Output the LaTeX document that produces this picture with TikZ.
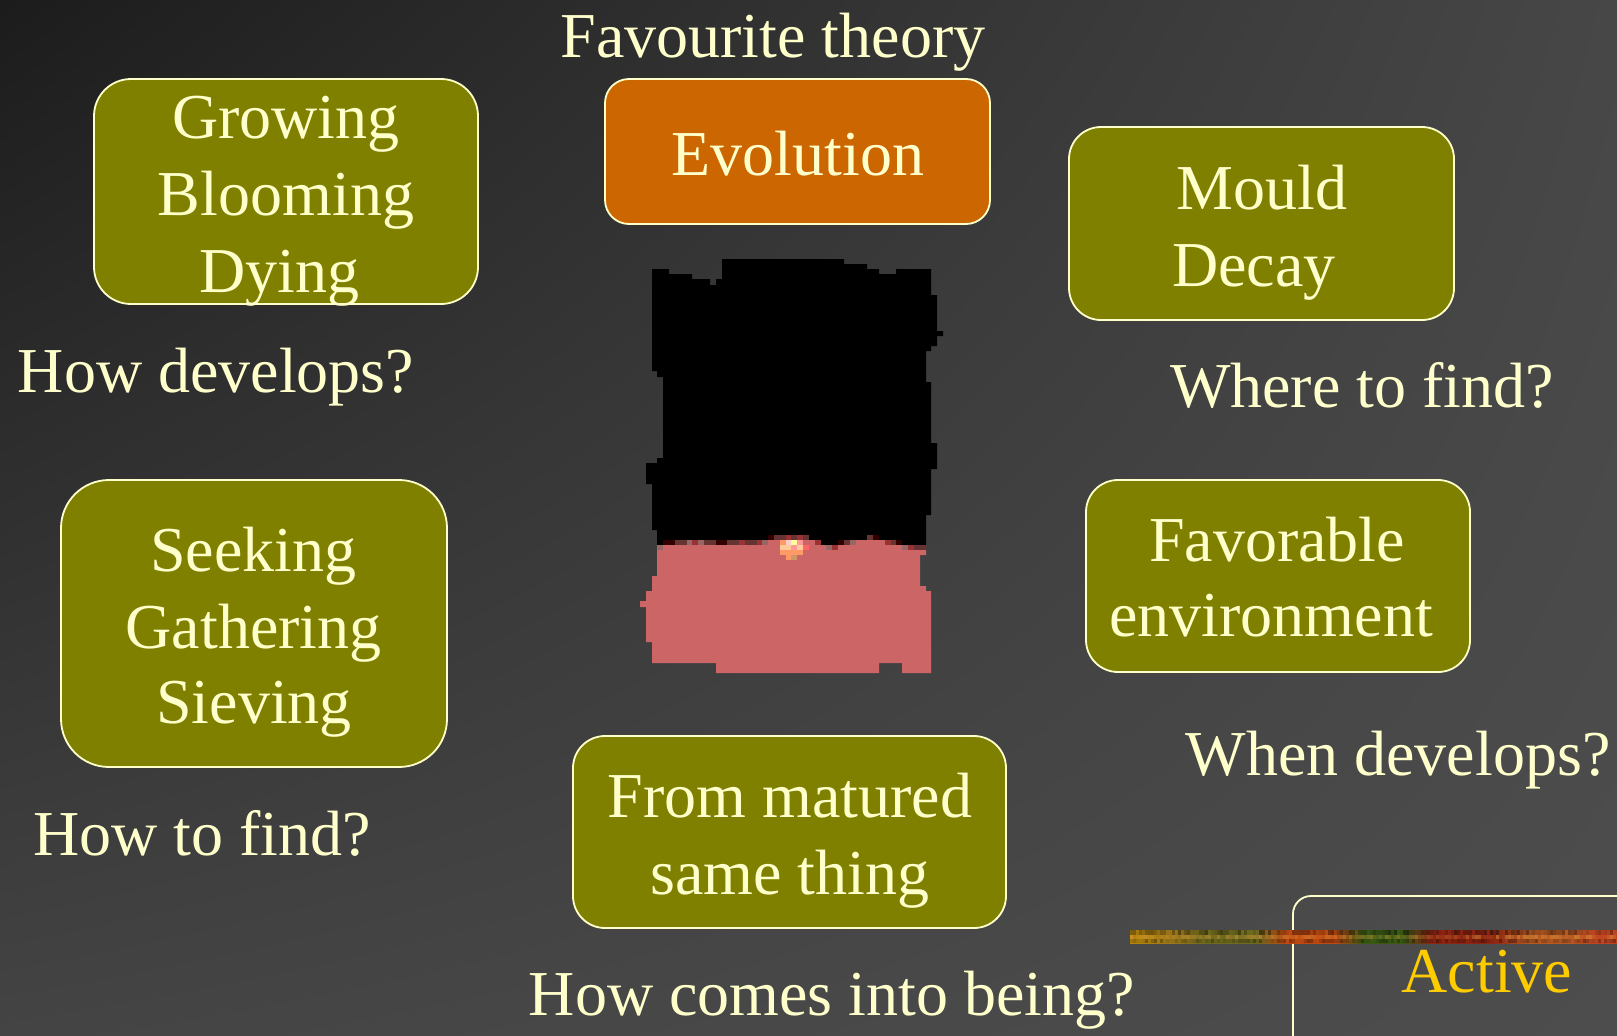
\documentclass[tikz,border=0pt]{standalone}
\usepackage{fontspec}
\setmainfont{Liberation Serif}
\usetikzlibrary{shadings}
\definecolor{cream}{HTML}{FFFFCC}
\definecolor{olivebox}{HTML}{808000}
\definecolor{orangebox}{HTML}{CC6600}
\definecolor{activegold}{HTML}{FFCC00}
\definecolor{pinkimg}{HTML}{CC6666}
\definecolor{bgUL}{HTML}{1C1C1C}
\definecolor{bgUR}{HTML}{474747}
\definecolor{bgLL}{HTML}{444444}
\definecolor{bgLR}{HTML}{4D4D4D}
\definecolor{dr1}{HTML}{330000}
\definecolor{dr2}{HTML}{663333}
\definecolor{dr3}{HTML}{993333}
\definecolor{dr4}{HTML}{996666}
\definecolor{sp1}{HTML}{FF9966}
\definecolor{sp2}{HTML}{FFCCCC}
\definecolor{sp3}{HTML}{FFFF99}
\definecolor{sp4}{HTML}{FF9999}
\definecolor{sp5}{HTML}{FFCC99}
\definecolor{sp6}{HTML}{FF6666}
\definecolor{sp7}{HTML}{CC9966}
\definecolor{st1}{HTML}{B8860B}
\definecolor{st2}{HTML}{A07818}
\definecolor{st3}{HTML}{6E6A1E}
\definecolor{st4}{HTML}{C04A12}
\definecolor{st5}{HTML}{3A5A14}
\definecolor{st6}{HTML}{8E2412}
\definecolor{st7}{HTML}{B85A22}
\definecolor{st8}{HTML}{C04420}
\definecolor{speckL}{HTML}{E0A040}
\pgfdeclarehorizontalshading{stripeshade}{100bp}{%
  color(0bp)=(st1); color(25bp)=(st1); color(29bp)=(st2); color(33bp)=(st3);
  color(38bp)=(st3); color(41bp)=(st4); color(46bp)=(st4); color(49bp)=(st5);
  color(53bp)=(st5); color(56bp)=(st6); color(62bp)=(st6); color(66bp)=(st7);
  color(70bp)=(st7); color(73bp)=(st8); color(75bp)=(st8); color(100bp)=(st8)}
\tikzset{
  box/.style={draw=cream, line width=1.8pt, fill=olivebox, inner sep=0pt},
  lbl/.style={text=cream, font=\fontsize{64}{76}\selectfont, anchor=base, inner sep=0pt},
}
\begin{document}
\begin{tikzpicture}[x=1pt,y=-1pt]
\useasboundingbox (0,0) rectangle (1617,1036);
\clip (0,0) rectangle (1617,1036);
% background
\shade[upper left=bgUL, upper right=bgUR, lower left=bgLL, lower right=bgLR] (0,0) rectangle (1617,1036);

% boxes
\node[box, minimum width=384pt, minimum height=225pt, rounded corners=37pt] (grow) at (286,191.5) {};
\node[box, fill=orangebox, minimum width=385pt, minimum height=145pt, rounded corners=24pt] (evol) at (797.5,151.5) {};
\node[box, minimum width=385pt, minimum height=193pt, rounded corners=32pt] (mould) at (1261.5,223.5) {};
\node[box, minimum width=386pt, minimum height=287pt, rounded corners=48pt] (seek) at (254,623.5) {};
\node[box, minimum width=384pt, minimum height=192pt, rounded corners=32pt] (fav) at (1278,576) {};
\node[box, minimum width=433pt, minimum height=192pt, rounded corners=32pt] (mat) at (789.5,832) {};
\node[box, fill=none, minimum width=400pt, minimum height=200pt, rounded corners=18pt] (active) at (1493,996) {};

% stripe
\shade[shading=stripeshade] (1130,930) rectangle (1617,943);
\pgfmathsetseed{11}
\foreach \i in {0,...,161} {
  \pgfmathsetmacro{\xa}{1130+\i*3}
  \pgfmathsetmacro{\oa}{0.45*rnd}
  \pgfmathsetmacro{\ob}{0.45*rnd}
  \pgfmathsetmacro{\oc}{0.35*rnd}
  \fill[black, opacity=\oa] (\xa,930) rectangle ++(3,4.5);
  \fill[speckL, opacity=\ob] (\xa,934.5) rectangle ++(3,4.5);
  \fill[black, opacity=\oc] (\xa,939) rectangle ++(3,4);
}

% central picture
\fill[black] (652,269) -- (669,269) -- (669,274) -- (692,274) -- (692,279) -- (710,279) -- (710,285) -- (716,285) -- (716,279) -- (722,279) -- (722,259) -- (844,259) -- (844,264) -- (867,264) -- (867,269) -- (879,269) -- (879,274) -- (896,274) -- (896,269) -- (931,269) -- (931,295) -- (937,295) -- (937,331) -- (943,331) -- (943,336) -- (937,336) -- (937,346) -- (931,346) -- (931,351) -- (926,351) -- (926,382) -- (931,382) -- (931,443) -- (937,443) -- (937,469) -- (931,469) -- (931,515) -- (926,515) -- (926,550) -- (657,550) -- (657,530) -- (652,530) -- (652,484) -- (646,484) -- (646,463) -- (657,463) -- (657,458) -- (663,458) -- (663,377) -- (657,377) -- (657,371) -- (652,371) -- cycle;
\fill[pinkimg] (657,545) -- (926,545) -- (926,555) -- (920,555) -- (920,586) -- (926,586) -- (926,591) -- (931,591) -- (931,673) -- (902,673) -- (902,663) -- (879,663) -- (879,673) -- (716,673) -- (716,663) -- (652,663) -- (652,642) -- (646,642) -- (646,607) -- (640,607) -- (640,601) -- (646,601) -- (646,591) -- (652,591) -- (652,576) -- (657,576) -- cycle;
% ragged transition
\fill[pinkimg] (663,540) rectangle (918,545);
\fill[dr1] (663,540) rectangle (675,545);
\fill[dr2] (675,540) rectangle (687,545);
\fill[dr4] (687,540) rectangle (692,545);
\fill[dr3] (692,540) rectangle (698,545);
\fill[dr4] (698,540) rectangle (704,545);
\fill[dr2] (704,540) rectangle (716,545);
\fill[dr1] (716,540) rectangle (727,545);
\fill[dr2] (727,540) rectangle (739,545);
\fill[dr3] (739,540) rectangle (745,545);
\fill[dr2] (745,540) rectangle (757,545);
\fill[dr3] (757,540) rectangle (762,545);
\fill[dr4] (762,540) rectangle (768,545);
\fill[dr1] (768,535) rectangle (774,540);
\fill[dr2] (774,535) rectangle (786,540);
\fill[dr3] (786,535) rectangle (791,540);
\fill[dr2] (791,535) rectangle (797,540);
\fill[dr3] (797,535) rectangle (803,540);
\fill[dr2] (803,535) rectangle (809,540);
\fill[dr3] (815,540) rectangle (821,545);
\fill[black] (821,540) rectangle (838,545);
\fill[dr1] (838,540) rectangle (844,545);
\fill[dr2] (844,540) rectangle (850,545);
\fill[dr4] (850,540) rectangle (856,545);
\fill[dr2] (867,535) rectangle (873,540);
\fill[dr1] (873,535) rectangle (879,540);
\fill[dr3] (885,540) rectangle (891,545);
\fill[dr2] (891,540) rectangle (896,545);
\fill[dr1] (896,540) rectangle (902,545);
\fill[black] (902,540) rectangle (926,545);
\fill[dr4] (826,545) rectangle (832,550);
\fill[dr3] (832,545) rectangle (838,550);
\fill[dr4] (902,545) rectangle (908,550);
\fill[dr3] (908,545) rectangle (914,550);
\fill[dr2] (914,545) rectangle (926,550);
\fill[dr4] (657,545) rectangle (663,550);
% bright spot
\fill[sp1] (780,540) rectangle (786,545);
\fill[sp2] (786,540) rectangle (791,545);
\fill[sp3] (791,540) rectangle (797,545);
\fill[sp4] (797,540) rectangle (803,545);
\fill[sp5] (780,545) rectangle (791,550);
\fill[sp4] (791,545) rectangle (797,550);
\fill[sp5] (797,545) rectangle (803,550);
\fill[sp6] (803,545) rectangle (809,550);
\fill[sp1] (780,550) rectangle (803,555);
\fill[sp1] (786,555) rectangle (791,560);
\fill[sp7] (791,555) rectangle (797,560);

% texts
\node[lbl] (tFavourite) at (773,57) {Favourite theory};
\node[lbl] (tGrowing) at (286,138) {Growing};
\node[lbl] (tBlooming) at (286,215) {Blooming};
\node[lbl] (tDying) at (279,292) {Dying};
\node[lbl] (tEvolution) at (798,175) {Evolution};
\node[lbl] (tMould) at (1262,209) {Mould};
\node[lbl] (tDecay) at (1254,286) {Decay};
\node[lbl] (tWhere) at (1362,407) {Where to find?};
\node[lbl] (tHowDev) at (216,392) {How develops?};
\node[lbl] (tSeeking) at (253.5,571) {Seeking};
\node[lbl] (tGathering) at (253.7,648) {Gathering};
\node[lbl] (tSieving) at (254,723) {Sieving};
\node[lbl] (tHowFind) at (202,855) {How to find?};
\node[lbl] (tFavorable) at (1277,561) {Favorable};
\node[lbl] (tEnv) at (1271,636) {environment};
\node[lbl] (tWhen) at (1398,775) {When develops?};
\node[lbl] (tFrom) at (790,817) {From matured};
\node[lbl] (tSame) at (790,894) {same thing};
\node[lbl] (tHowComes) at (832,1015) {How comes into being?};
\node[lbl, text=activegold] (tActive) at (1487,992) {Active};
\end{tikzpicture}
\end{document}
